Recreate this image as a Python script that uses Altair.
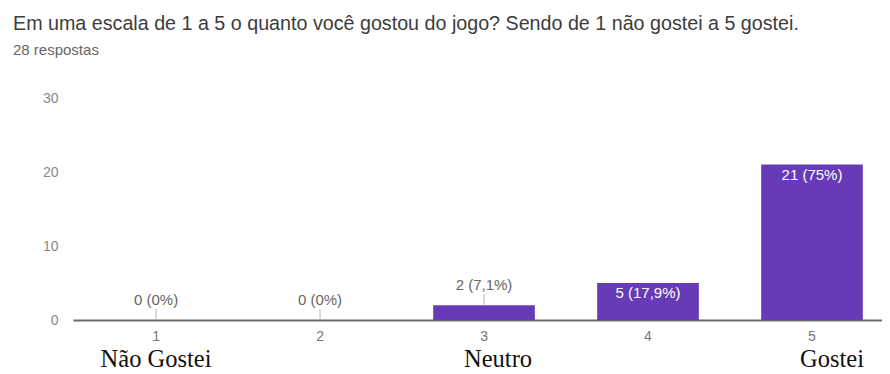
import altair as alt
import pandas as pd

categories = ["1", "2", "3", "4", "5"]
counts = [0, 0, 2, 5, 21]
labels = ["0 (0%)", "0 (0%)", "2 (7,1%)", "5 (17,9%)", "21 (75%)"]
inside = [False, False, False, True, True]

scale_words = ["Não Gostei", "Neutro", "Gostei"]
scale_cats = ["1", "3", "5"]
scale_dx = [0, 14, 20]

title_text = "Em uma escala de 1 a 5 o quanto você gostou do jogo? Sendo de 1 não gostei a 5 gostei."
subtitle_text = "28 respostas"

df = pd.DataFrame({"cat": categories, "value": counts, "label": labels, "inside": inside})
words = pd.DataFrame({"cat": scale_cats, "word": scale_words, "dx": scale_dx})
heads = pd.DataFrame({"t": [title_text]})

W, H = 809, 222
SANS = "Liberation Sans"

xs = alt.Scale(paddingInner=0.38, paddingOuter=0.1566, align=0.627)
x = alt.X("cat:N", sort=categories, scale=xs,
          axis=alt.Axis(title=None, labelAngle=0, ticks=False, labelPadding=9,
                        labelFontSize=14, labelColor="#777777", labelFont=SANS,
                        domainColor="#6b6b6b", domainWidth=2, grid=False))
y = alt.Y("value:Q", scale=alt.Scale(domain=[0, 30]),
          axis=alt.Axis(title=None, values=[0, 10, 20, 30], grid=False, domain=False,
                        ticks=False, labelPadding=15, labelFontSize=14,
                        labelColor="#888888", labelFont=SANS))

xc = alt.X("cat:N", sort=categories)
base = alt.Chart(df)
bars = base.mark_bar(color="#673AB7").encode(x=x, y=y)

out_txt = base.transform_filter("!datum.inside").mark_text(
    dy=-20, baseline="middle", fontSize=15, color="#666666", font=SANS
).encode(x=xc, y="value:Q", text="label:N")

leader = base.transform_filter("!datum.inside").transform_calculate(v2="datum.value").mark_rule(
    color="#b5b5b5", strokeWidth=1, yOffset=-11, y2Offset=0
).encode(x=xc, y="value:Q", y2="v2:Q")

in_txt = base.transform_filter("datum.inside").mark_text(
    dy=10, baseline="middle", fontSize=15, color="white", font=SANS
).encode(x=xc, y="value:Q", text="label:N")

word_layers = []
for c, w, d in zip(scale_cats, scale_words, scale_dx):
    word_layers.append(
        alt.Chart(words[words["cat"] == c]).mark_text(
            font="Liberation Serif", fontSize=24.5, color="#111111",
            baseline="alphabetic", align="center", dx=d
        ).encode(x=xc, y=alt.value(269), text="word:N")
    )

title_mark = alt.Chart(heads).mark_text(
    font=SANS, fontSize=19.7, color="#3c3c3c", align="left", baseline="alphabetic"
).encode(x=alt.value(-60), y=alt.value(-68), text=alt.value(title_text))

sub_mark = alt.Chart(heads).mark_text(
    font=SANS, fontSize=15, color="#666666", align="left", baseline="alphabetic"
).encode(x=alt.value(-60), y=alt.value(-43), text=alt.value(subtitle_text))

chart = alt.layer(bars, leader, out_txt, in_txt, *word_layers, title_mark, sub_mark).properties(
    width=W, height=H,
    background="white",
    autosize=alt.AutoSizeParams(type="none"),
    padding={"left": 65, "top": 90, "right": 0, "bottom": 54},
).configure_view(strokeWidth=0, strokeOpacity=0, stroke="#ffffff").configure_axis(grid=False)

chart.save("out.html", embed_options={"renderer": "svg", "actions": False})
